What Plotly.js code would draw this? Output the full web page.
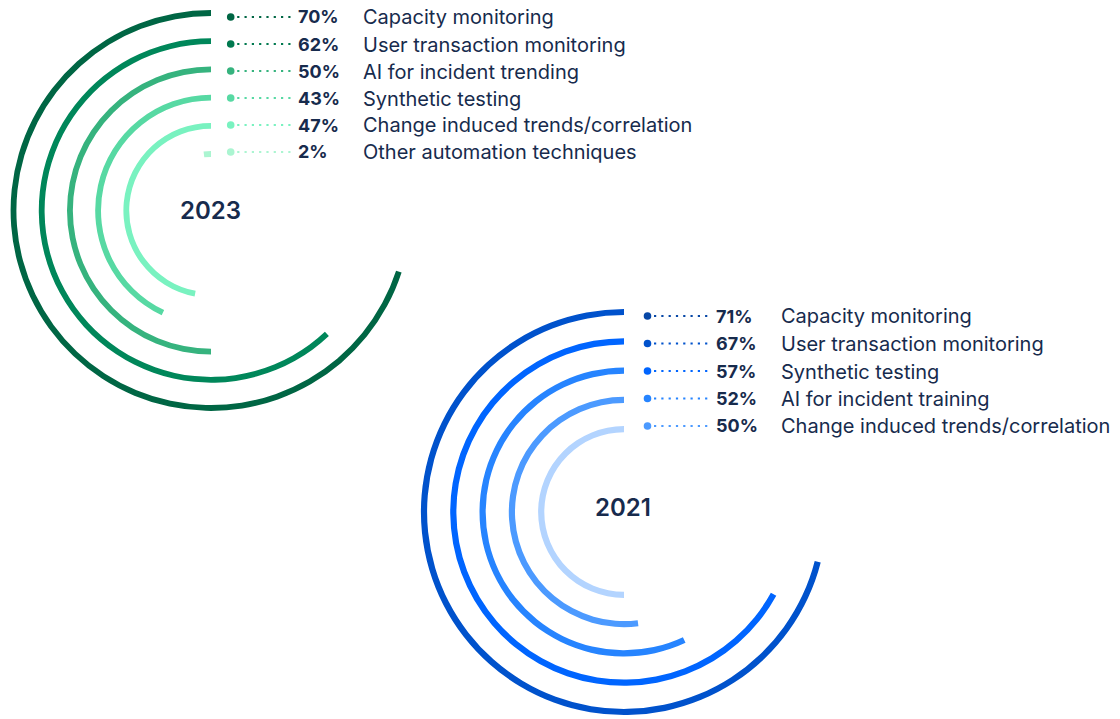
<!DOCTYPE html>
<html>
<head>
<meta charset="utf-8">
<script src="https://cdn.plot.ly/plotly-3.0.1.min.js"></script>
<style>
html,body{margin:0;padding:0;background:#ffffff;}
#chart{width:1120px;height:719px;}
</style>
</head>
<body>
<div id="chart"></div>
<script>
// ---------- DATA ----------
const labels2023 = ["Capacity monitoring", "User transaction monitoring", "AI for incident trending",
                    "Synthetic testing", "Change induced trends/correlation", "Other automation techniques"];
const values2023 = [70, 62, 50, 43, 47, 2];

const labels2021 = ["Capacity monitoring", "User transaction monitoring", "Synthetic testing",
                    "AI for incident training", "Change induced trends/correlation"];
const values2021 = [71, 67, 57, 52, 50];

const yearLabels = ["2023", "2021"];

// ---------- STYLE ----------
const W = 1120, H = 719;
const TEXT = "#172B4D";
const FONT = "Inter, 'Open Sans', sans-serif";
const ringColors2023 = ["#006644", "#00875A", "#36B37E", "#57D9A3", "#79F2C0", "#ABF5D1"];
const dotColors2023  = ["#006644", "#00794F", "#36B37E", "#57D9A3", "#79F2C0", "#ABF5D1"];
const ringColors2021 = ["#0052CC", "#0065FF", "#2684FF", "#4C9AFF", "#B3D4FF"];
const dotColors2021  = ["#0747A6", "#0052CC", "#0065FF", "#2684FF", "#4C9AFF"];

const px = x => x / W;
const py = y => 1 - y / H;

// chart geometry (pixels)
const charts = [
  { key: "polar",  cx: 211, cy: 210.5, R: 206, r0: 197.5, step: 28.2, thick: 5.8, yearY: 210.5,
    values: values2023, labels: labels2023, ring: ringColors2023, dots: dotColors2023,
    dotX: 230.7, rowY0: 17, rowStep: 27, pctX: 296, labX: 361, year: yearLabels[0] },
  { key: "polar2", cx: 624, cy: 512, R: 206, r0: 200, step: 29.3, thick: 6.2, yearY: 507,
    values: values2021, labels: labels2021, ring: ringColors2021, dots: dotColors2021,
    dotX: 647.5, rowY0: 316, rowStep: 27.5, pctX: 714, labX: 779, year: yearLabels[1] }
];

const data = [];
const shapes = [];
const annotations = [];
const layout = {
  width: W, height: H,
  margin: {l: 0, r: 0, t: 0, b: 0},
  paper_bgcolor: "#ffffff",
  showlegend: false,
  shapes: shapes,
  annotations: annotations
};

charts.forEach(c => {
  const radii = c.values.map((v, i) => c.r0 - i * c.step);
  data.push({
    type: "barpolar",
    subplot: c.key,
    r: c.values.map(() => c.thick),
    base: radii.map(r => r - c.thick / 2),
    theta: c.values.map(v => v * 1.8),
    width: c.values.map(v => v * 3.6),
    marker: {color: c.ring, line: {width: 0}},
    hoverinfo: "skip",
    showlegend: false
  });
  const cyB = H - c.cy;
  layout[c.key] = {
    domain: {x: [(c.cx - c.R) / W, (c.cx + c.R) / W], y: [(cyB - c.R) / H, (cyB + c.R) / H]},
    bgcolor: "rgba(0,0,0,0)",
    barmode: "overlay",
    hole: 0,
    radialaxis: {visible: false, range: [0, c.R], showgrid: false, showline: false, showticklabels: false, ticks: ""},
    angularaxis: {visible: false, rotation: 90, direction: "counterclockwise", showgrid: false,
                  showline: false, showticklabels: false, ticks: ""}
  };

  // year label in the centre
  annotations.push({
    xref: "paper", yref: "paper", x: px(c.cx - 1), y: py(c.yearY),
    xanchor: "center", yanchor: "middle", showarrow: false,
    text: c.year, font: {family: FONT, size: 24, weight: 600, color: TEXT}
  });

  c.values.forEach((v, i) => {
    const y = c.rowY0 + i * c.rowStep;
    const dr = 3.8;
    shapes.push({
      type: "circle", xref: "paper", yref: "paper",
      x0: px(c.dotX - dr), x1: px(c.dotX + dr), y0: py(y + dr), y1: py(y - dr),
      fillcolor: c.dots[i], line: {width: 0}
    });
    shapes.push({
      type: "line", xref: "paper", yref: "paper",
      x0: px(c.dotX + 6.5), x1: px(c.dotX + 61), y0: py(y), y1: py(y),
      line: {color: c.dots[i], width: 2.2, dash: "2.2px,5.1px"}
    });
    annotations.push({
      xref: "paper", yref: "paper", x: px(c.pctX), y: py(y),
      xanchor: "left", yanchor: "middle", showarrow: false,
      text: v + "%", font: {family: FONT, size: 18, weight: 700, color: TEXT}
    });
    annotations.push({
      xref: "paper", yref: "paper", x: px(c.labX), y: py(y + 0.5),
      xanchor: "left", yanchor: "middle", showarrow: false,
      text: c.labels[i], font: {family: FONT, size: 20, weight: 400, color: TEXT}
    });
  });
});

Plotly.newPlot("chart", data, layout, {displayModeBar: false, staticPlot: true});
</script>
</body>
</html>
